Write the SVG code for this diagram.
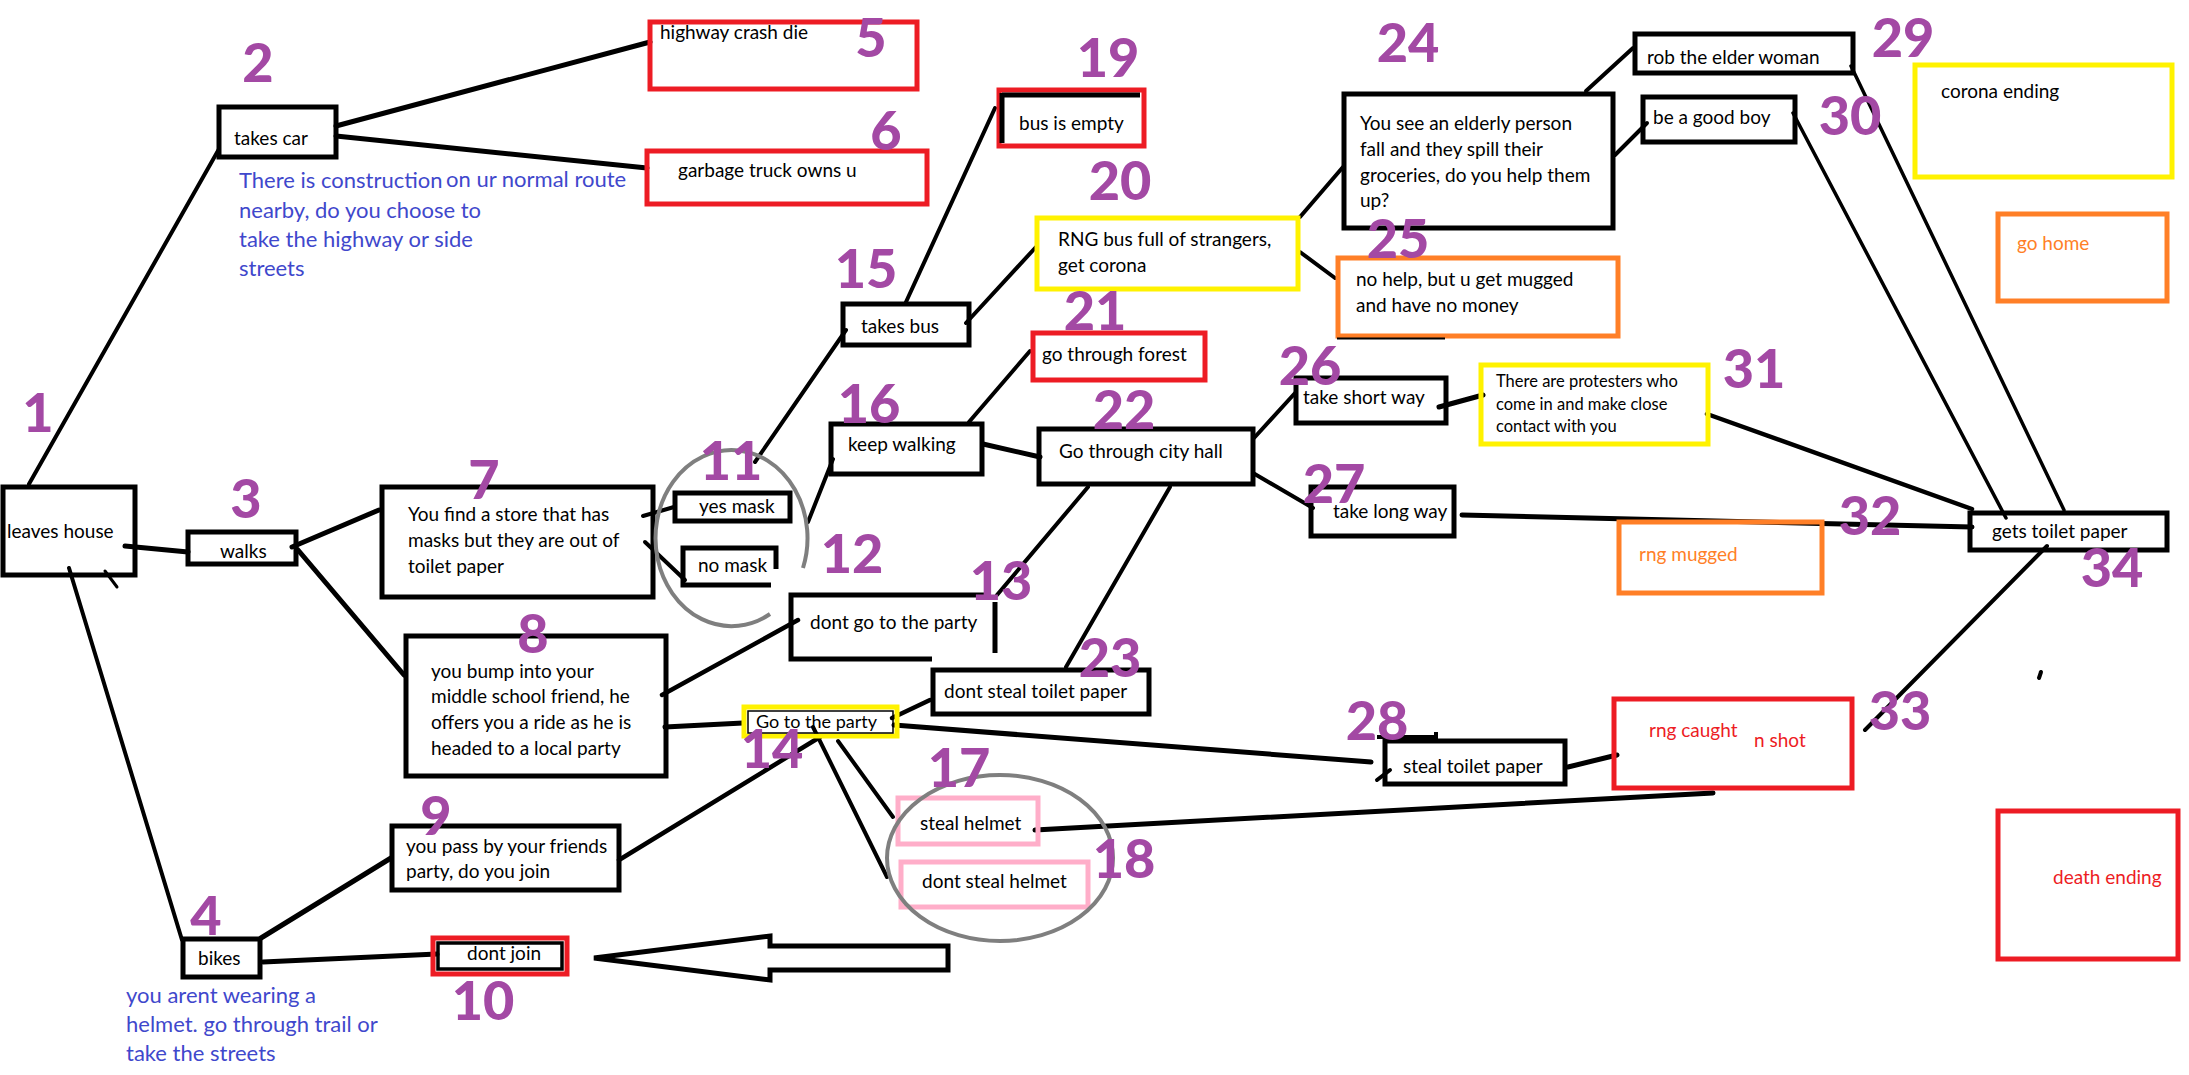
<svg xmlns="http://www.w3.org/2000/svg" width="2189" height="1075" viewBox="0 0 2189 1075">
<style>
.bx{fill:none;stroke:#000;stroke-width:5}
.rd{fill:none;stroke:#ED1C24;stroke-width:5}
.yl{fill:none;stroke:#FFF200;stroke-width:5}
.or{fill:none;stroke:#FF7F27;stroke-width:5}
.pk{fill:none;stroke:#FFAEC9;stroke-width:5}
.gr{fill:none;stroke:#7F7F7F;stroke-width:4}
.t{font-family:Lato,"Open Sans",sans-serif;font-size:19px;fill:#000}
.ts{font-family:Lato,"Open Sans",sans-serif;font-size:16.5px;fill:#000}
.bl{font-family:Lato,"Open Sans",sans-serif;font-size:22px;fill:#3F48CC}
.to{fill:#FF7F27}
.tr{fill:#ED1C24}
.n{font-family:Lato,"Open Sans",sans-serif;font-size:54px;font-weight:900;fill:#A349A4;text-anchor:middle}
#connectors line{stroke:#000;stroke-width:4.5;stroke-linecap:round}
</style>
<rect width="2189" height="1075" fill="#fff"/>
<g id="connectors">
<line x1="29" y1="484" x2="219" y2="149" style="stroke-width:4"/>
<line x1="336" y1="126" x2="650" y2="42" style="stroke-width:5"/>
<line x1="336" y1="136" x2="647" y2="168" style="stroke-width:5"/>
<line x1="125" y1="546" x2="188" y2="552" style="stroke-width:5"/>
<line x1="69" y1="568" x2="182" y2="940" style="stroke-width:4"/>
<line x1="292" y1="547" x2="379" y2="510" style="stroke-width:5"/>
<line x1="298" y1="550" x2="404" y2="675" style="stroke-width:5"/>
<line x1="643" y1="516" x2="674" y2="507" style="stroke-width:4"/>
<line x1="645" y1="542" x2="685" y2="580" style="stroke-width:4"/>
<line x1="755" y1="462" x2="846" y2="330" style="stroke-width:4"/>
<line x1="808" y1="522" x2="833" y2="459" style="stroke-width:4"/>
<line x1="906" y1="302" x2="995" y2="108" style="stroke-width:4"/>
<line x1="966" y1="323" x2="1036" y2="247" style="stroke-width:4"/>
<line x1="969" y1="422" x2="1030" y2="351" style="stroke-width:4"/>
<line x1="983" y1="444" x2="1040" y2="457" style="stroke-width:5"/>
<line x1="1300" y1="217" x2="1343" y2="167" style="stroke-width:4"/>
<line x1="1300" y1="252" x2="1335" y2="278" style="stroke-width:4"/>
<line x1="1586" y1="91" x2="1633" y2="48" style="stroke-width:4"/>
<line x1="1615" y1="155" x2="1647" y2="123" style="stroke-width:4"/>
<line x1="1851" y1="66" x2="2064" y2="510" style="stroke-width:3.5"/>
<line x1="1793" y1="113" x2="2006" y2="518" style="stroke-width:3.5"/>
<line x1="1254" y1="438" x2="1296" y2="392" style="stroke-width:4"/>
<line x1="1253" y1="473" x2="1313" y2="508" style="stroke-width:4"/>
<line x1="1439" y1="407" x2="1483" y2="395" style="stroke-width:5"/>
<line x1="1707" y1="414" x2="1972" y2="509"/>
<line x1="1462" y1="515" x2="1972" y2="527" style="stroke-width:5"/>
<line x1="2047" y1="546" x2="1865" y2="730" style="stroke-width:4"/>
<line x1="1088" y1="487" x2="997" y2="595" style="stroke-width:4"/>
<line x1="1170" y1="487" x2="1066" y2="667" style="stroke-width:4"/>
<line x1="662" y1="695" x2="798" y2="620"/>
<line x1="665" y1="727" x2="743" y2="723" style="stroke-width:5"/>
<line x1="892" y1="718" x2="930" y2="700"/>
<line x1="894" y1="725" x2="1371" y2="762" style="stroke-width:5"/>
<line x1="813" y1="727" x2="887" y2="877" style="stroke-width:4"/>
<line x1="838" y1="741" x2="893" y2="817" style="stroke-width:4"/>
<line x1="820" y1="737" x2="619" y2="860"/>
<line x1="1035" y1="830" x2="1713" y2="793" style="stroke-width:5"/>
<line x1="1568" y1="767" x2="1617" y2="755" style="stroke-width:5"/>
<line x1="261" y1="938" x2="391" y2="858" style="stroke-width:5"/>
<line x1="263" y1="962" x2="437" y2="954" style="stroke-width:5"/>
<line x1="105" y1="571" x2="117" y2="587" style="stroke-width:3"/>
<line x1="1377" y1="780" x2="1390" y2="770" style="stroke-width:4"/>
<line x1="2039" y1="678" x2="2041" y2="672" style="stroke-width:4"/>
<polygon points="594,958 770,936 770,946 948,946 948,970 770,970 770,980" style="fill:none;stroke:#000;stroke-width:5;stroke-linejoin:miter"/>
</g>
<g id="n1"><rect class="bx" x="3" y="487" width="132" height="88"/><text class="t" x="7" y="538">leaves house</text></g>
<g id="n2"><rect class="bx" x="219" y="107" width="117" height="50"/><text class="t" x="234" y="145">takes car</text>
<text class="bl" x="239" y="188">There is construction</text><text class="bl" x="446" y="187">on ur normal route</text>
<text class="bl" x="239" y="218">nearby, do you choose to</text><text class="bl" x="239" y="247">take the highway or side</text><text class="bl" x="239" y="276">streets</text></g>
<g id="n3"><rect class="bx" x="188" y="532" width="108" height="32"/><text class="t" x="220" y="558">walks</text></g>
<g id="n4"><rect class="bx" x="183" y="939" width="77" height="38"/><text class="t" x="198" y="965">bikes</text>
<text class="bl" x="126" y="1003">you arent wearing a</text><text class="bl" x="126" y="1032">helmet. go through trail or</text><text class="bl" x="126" y="1061">take the streets</text></g>
<g id="n5"><rect class="rd" x="650" y="22" width="267" height="67"/><text class="t" x="660" y="39">highway crash die</text></g>
<g id="n6"><rect class="rd" x="647" y="151" width="280" height="53"/><text class="t" x="678" y="177">garbage truck owns u</text></g>
<g id="n7"><rect class="bx" x="382" y="487" width="271" height="110"/><text class="t" x="408" y="521">You find a store that has</text><text class="t" x="408" y="547">masks but they are out of</text><text class="t" x="408" y="573">toilet paper</text></g>
<g id="n8"><rect class="bx" x="406" y="636" width="260" height="140"/><text class="t" x="431" y="678">you bump into your</text><text class="t" x="431" y="703">middle school friend, he</text><text class="t" x="431" y="729">offers you a ride as he is</text><text class="t" x="431" y="755">headed to a local party</text></g>
<g id="n9"><rect class="bx" x="392" y="826" width="227" height="64"/><text class="t" x="406" y="853">you pass by your friends</text><text class="t" x="406" y="878">party, do you join</text></g>
<g id="n10"><rect class="rd" x="433" y="938" width="134" height="36"/><rect x="438" y="943" width="124" height="26" style="fill:none;stroke:#000;stroke-width:3.5"/><text class="t" x="467" y="960">dont join</text></g>
<g id="n11"><rect class="bx" x="675" y="493" width="115" height="28"/><text class="t" x="699" y="513">yes mask</text></g>
<g id="n12"><path class="bx" d="M776 569 V548 H683 V585 H771"/><text class="t" x="698" y="572">no mask</text>
<path class="gr" d="M803 568 A76 88 0 1 0 770 614"/></g>
<g id="n13"><path class="bx" d="M990 595 H791 V659 H932 M995 602 V653"/><text class="t" x="810" y="629">dont go to the party</text></g>
<g id="n14"><rect class="yl" x="744" y="707" width="153" height="29"/><rect x="748" y="711" width="145" height="22" style="fill:none;stroke:#000;stroke-width:1.5"/><text class="t" x="756" y="728" style="font-size:18px">Go to the party</text></g>
<g id="n15"><rect class="bx" x="843" y="304" width="126" height="41"/><text class="t" x="861" y="333">takes bus</text></g>
<g id="n16"><rect class="bx" x="831" y="424" width="151" height="50"/><text class="t" x="848" y="451">keep walking</text></g>
<g id="n17"><rect class="pk" x="898" y="798" width="140" height="46"/><text class="t" x="920" y="830">steal helmet</text></g>
<g id="n18"><rect class="pk" x="901" y="862" width="187" height="45"/><text class="t" x="922" y="888">dont steal helmet</text>
<ellipse class="gr" cx="1000" cy="858" rx="113" ry="83"/></g>
<g id="n19"><rect class="rd" x="999" y="90" width="145" height="56"/><path d="M1002 95 H1140 M1002 93 V143" style="fill:none;stroke:#000;stroke-width:5"/><text class="t" x="1019" y="130">bus is empty</text></g>
<g id="n20"><rect class="yl" x="1037" y="218" width="261" height="71"/><text class="t" x="1058" y="246">RNG bus full of strangers,</text><text class="t" x="1058" y="272">get corona</text></g>
<g id="n21"><rect class="rd" x="1033" y="333" width="172" height="47"/><text class="t" x="1042" y="361">go through forest</text></g>
<g id="n22"><rect class="bx" x="1039" y="429" width="214" height="55"/><text class="t" x="1059" y="458">Go through city hall</text></g>
<g id="n23"><rect class="bx" x="933" y="670" width="216" height="44"/><text class="t" x="944" y="698">dont steal toilet paper</text></g>
<g id="n24"><rect class="bx" x="1344" y="94" width="269" height="134"/><text class="t" x="1360" y="130">You see an elderly person</text><text class="t" x="1360" y="156">fall and they spill their</text><text class="t" x="1360" y="182">groceries, do you help them</text><text class="t" x="1360" y="207">up?</text></g>
<g id="n25"><rect class="or" x="1338" y="258" width="280" height="78"/><line x1="1337" y1="338.5" x2="1445" y2="338.5" style="stroke:#000;stroke-width:2"/><text class="t" x="1356" y="286">no help, but u get mugged</text><text class="t" x="1356" y="312">and have no money</text></g>
<g id="n26"><rect class="bx" x="1296" y="378" width="150" height="45"/><text class="t" x="1303" y="404">take short way</text></g>
<g id="n27"><rect class="bx" x="1311" y="487" width="143" height="49"/><text class="t" x="1333" y="518">take long way</text></g>
<g id="n28"><rect class="bx" x="1385" y="741" width="180" height="43"/><path d="M1377 737 H1436 V732" style="fill:none;stroke:#000;stroke-width:4"/><text class="t" x="1403" y="773">steal toilet paper</text></g>
<g id="n29"><rect class="bx" x="1635" y="34" width="218" height="39"/><text class="t" x="1647" y="64">rob the elder woman</text></g>
<g id="n30"><rect class="bx" x="1643" y="97" width="152" height="45"/><text class="t" x="1653" y="124">be a good boy</text></g>
<g id="n31"><rect class="yl" x="1481" y="365" width="227" height="79"/><text class="ts" x="1496" y="387">There are protesters who</text><text class="ts" x="1496" y="410">come in and make close</text><text class="ts" x="1496" y="432">contact with you</text></g>
<g id="n32"><rect class="or" x="1619" y="522" width="203" height="71"/><text class="t to" x="1639" y="561">rng mugged</text></g>
<g id="n33"><rect class="rd" x="1614" y="699" width="238" height="89"/><text class="t tr" x="1649" y="737">rng caught</text><text class="t tr" x="1754" y="747">n shot</text></g>
<g id="n34"><rect class="bx" x="1970" y="513" width="197" height="37"/><text class="t" x="1992" y="538">gets toilet paper</text></g>
<g id="corona-ending"><rect class="yl" x="1915" y="65" width="257" height="112"/><text class="t" x="1941" y="98">corona ending</text></g>
<g id="go-home"><rect class="or" x="1998" y="214" width="169" height="87"/><text class="t to" x="2017" y="250">go home</text></g>
<g id="death-ending"><rect class="rd" x="1998" y="811" width="180" height="148"/><text class="t tr" x="2053" y="884">death ending</text></g>
<g id="numbers">
<text class="n" x="38" y="432">1</text><text class="n" x="258" y="82">2</text><text class="n" x="246" y="518">3</text><text class="n" x="206" y="935">4</text>
<text class="n" x="871" y="57">5</text><text class="n" x="886" y="150">6</text><text class="n" x="484" y="499">7</text><text class="n" x="533" y="653">8</text>
<text class="n" x="436" y="835">9</text><text class="n" x="483" y="1020">10</text><text class="n" x="731" y="480">11</text><text class="n" x="852" y="573">12</text>
<text class="n" x="1001" y="600">13</text><text class="n" x="772" y="768">14</text><text class="n" x="866" y="288">15</text><text class="n" x="869" y="423">16</text>
<text class="n" x="959" y="787">17</text><text class="n" x="1124" y="878">18</text><text class="n" x="1108" y="77">19</text><text class="n" x="1120" y="200">20</text>
<text class="n" x="1095" y="330">21</text><text class="n" x="1124" y="429">22</text><text class="n" x="1110" y="677">23</text><text class="n" x="1408" y="62">24</text>
<text class="n" x="1398" y="258">25</text><text class="n" x="1310" y="385">26</text><text class="n" x="1334" y="503">27</text><text class="n" x="1377" y="740">28</text>
<text class="n" x="1903" y="57">29</text><text class="n" x="1850" y="135">30</text><text class="n" x="1754" y="388">31</text><text class="n" x="1870" y="535">32</text>
<text class="n" x="1900" y="730">33</text><text class="n" x="2112" y="587">34</text>
</g>
</svg>
